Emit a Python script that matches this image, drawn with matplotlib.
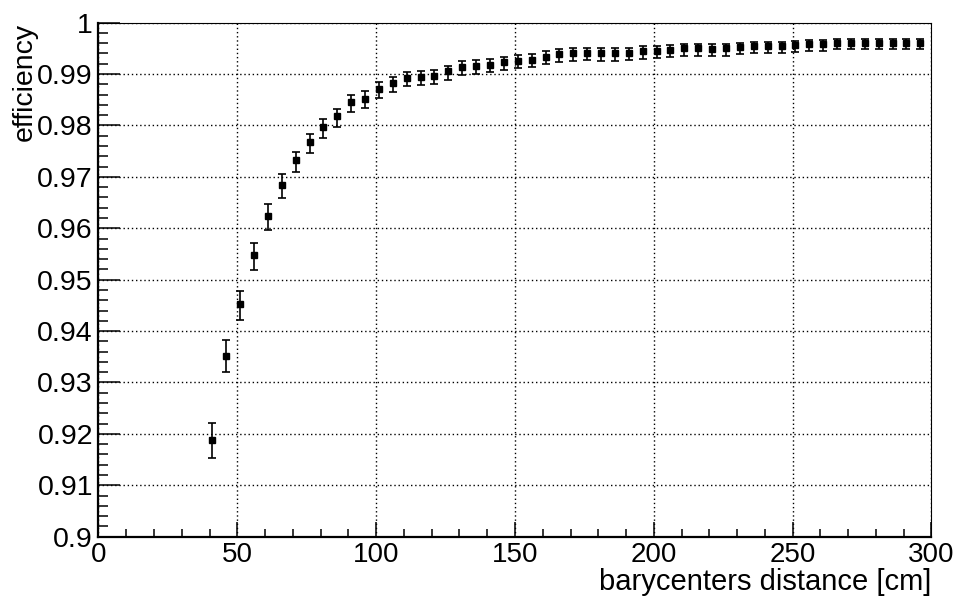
import matplotlib
matplotlib.use("Agg")
import matplotlib.pyplot as plt
from matplotlib.ticker import FixedLocator, MultipleLocator, FixedFormatter

# Efficiency versus barycenter distance (binomial errors, asymmetric)
distance = [41, 46, 51, 56, 61, 66, 71, 76, 81, 86,
            91, 96, 101, 106, 111, 116, 121, 126, 131, 136,
            141, 146, 151, 156, 161, 166, 171, 176, 181, 186,
            191, 196, 201, 206, 211, 216, 221, 226, 231, 236,
            241, 246, 251, 256, 261, 266, 271, 276, 281, 286,
            291, 296]
efficiency = [0.9189, 0.9352, 0.9452, 0.9547, 0.9624, 0.9685, 0.9732, 0.9768, 0.9797, 0.9818,
              0.9846, 0.9852, 0.9871, 0.9882, 0.9892, 0.9894, 0.9896, 0.9905, 0.9914, 0.9916,
              0.9918, 0.9923, 0.9926, 0.9928, 0.9934, 0.9938, 0.9940, 0.9941, 0.9940, 0.9940,
              0.9941, 0.9944, 0.9945, 0.9947, 0.9950, 0.9950, 0.9949, 0.9950, 0.9952, 0.9954,
              0.9954, 0.9954, 0.9956, 0.9958, 0.9958, 0.9961, 0.9961, 0.9961, 0.9961, 0.9961,
              0.9961, 0.9961]
err_low = [0.0036, 0.0031, 0.0031, 0.0029, 0.0027, 0.0027, 0.0023, 0.0021, 0.0021, 0.0021,
           0.0019, 0.0018, 0.0018, 0.0017, 0.0016, 0.0016, 0.0016, 0.0016, 0.0015, 0.0015,
           0.0015, 0.0015, 0.0015, 0.0015, 0.0015, 0.0014, 0.0014, 0.0014, 0.0014, 0.0014,
           0.0014, 0.0014, 0.0014, 0.0014, 0.0014, 0.0014, 0.0014, 0.0014, 0.0014, 0.0014,
           0.0014, 0.0014, 0.0013, 0.0013, 0.0013, 0.0013, 0.0013, 0.0013, 0.0013, 0.0013,
           0.0013, 0.0013]
err_high = [0.0033, 0.0031, 0.0026, 0.0025, 0.0024, 0.0021, 0.0017, 0.0016, 0.0016, 0.0014,
            0.0014, 0.0014, 0.0013, 0.0012, 0.0012, 0.0012, 0.0012, 0.0011, 0.0011, 0.0011,
            0.0011, 0.0011, 0.0011, 0.0010, 0.0010, 0.0010, 0.0010, 0.0010, 0.0010, 0.0010,
            0.0010, 0.0010, 0.0010, 0.0009, 0.0009, 0.0009, 0.0009, 0.0009, 0.0009, 0.0009,
            0.0009, 0.0009, 0.0009, 0.0009, 0.0009, 0.0008, 0.0008, 0.0008, 0.0008, 0.0008,
            0.0008, 0.0008]

x_ticks = [0, 50, 100, 150, 200, 250, 300]
x_ticklabels = ["0", "50", "100", "150", "200", "250", "300"]
y_ticks = [0.90, 0.91, 0.92, 0.93, 0.94, 0.95, 0.96, 0.97, 0.98, 0.99, 1.00]
y_ticklabels = ["0.9", "0.91", "0.92", "0.93", "0.94", "0.95", "0.96", "0.97", "0.98", "0.99", "1"]

font = "Liberation Sans"

fig = plt.figure(figsize=(9.59, 5.98), dpi=100)
ax = fig.add_axes([0.1027, 0.1025, 0.8686, 0.8597])

ax.errorbar(distance, efficiency, yerr=[err_low, err_high], fmt="s", color="black",
            markersize=3.8, elinewidth=1.2, capsize=2.6, capthick=1.2, zorder=3)

ax.set_xlim(0, 300)
ax.set_ylim(0.9, 1.0)

ax.xaxis.set_major_locator(FixedLocator(x_ticks))
ax.xaxis.set_major_formatter(FixedFormatter(x_ticklabels))
ax.xaxis.set_minor_locator(MultipleLocator(10))
ax.yaxis.set_major_locator(FixedLocator(y_ticks))
ax.yaxis.set_major_formatter(FixedFormatter(y_ticklabels))
ax.yaxis.set_minor_locator(MultipleLocator(0.002))

ax.grid(True, which="major", color="black", linestyle=(0, (1, 2)), linewidth=1.0)
ax.set_axisbelow(True)

ax.tick_params(axis="both", which="both", direction="in", top=False, right=False, colors="black")
ax.tick_params(axis="y", which="major", length=16, width=1.1, pad=4)
ax.tick_params(axis="y", which="minor", length=7, width=1.1)
ax.tick_params(axis="x", which="major", length=11, width=1.1, pad=4)
ax.tick_params(axis="x", which="minor", length=5.5, width=1.1)

for lab in ax.get_yticklabels():
    lab.set_fontfamily(font)
    lab.set_fontsize(20.5)
for lab in ax.get_xticklabels():
    lab.set_fontfamily(font)
    lab.set_fontsize(20)

for side in ("left", "bottom"):
    ax.spines[side].set_linewidth(1.6)
for side in ("top", "right"):
    ax.spines[side].set_linewidth(0.8)

ax.set_xlabel("barycenters distance [cm]", loc="right", fontfamily=font, fontsize=21)
ax.xaxis.set_label_coords(1.0, -0.061)
ax.xaxis.label.set_verticalalignment("top")

ax.set_ylabel("efficiency", loc="top", fontfamily=font, fontsize=20.5)
ax.yaxis.set_label_coords(-0.073, 1.0)

fig.savefig("out.png", dpi=100)
